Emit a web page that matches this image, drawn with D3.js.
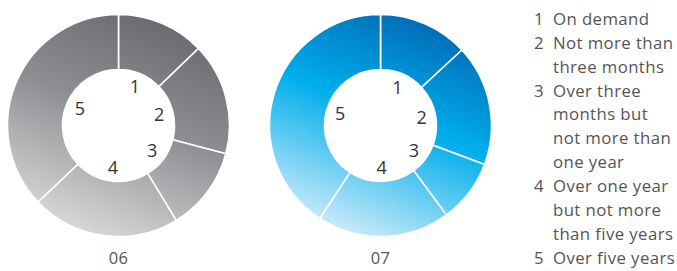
<!DOCTYPE html>
<html lang="en">
<head>
    <meta charset="UTF-8">
    <title>Maturity donuts</title>
    <script src="https://d3js.org/d3.v7.min.js"></script>
    <style>
        body {
            margin: 0;
            background: #ffffff;
            font-family: 'Open Sans', 'DejaVu Sans', sans-serif;
        }
        svg { display: block; }
        .seg { stroke: #ffffff; stroke-width: 1.6px; }
        .num { font-size: 18px; fill: #333; }
        .year { font-size: 16.5px; fill: #555; letter-spacing: 0.3px; }
        .legend { font-size: 16.8px; fill: #555; letter-spacing: 0.4px; }
    </style>
</head>
<body>
    <div id="chart"></div>
    <script>
        const width = 677, height = 271;

        // Maturity buckets (share of total, %)
        const buckets = ["1", "2", "3", "4", "5"];
        const values06 = [12.8, 16.3, 12.2, 21.6, 37.1];
        const values07 = [13.1, 17.6, 9.2, 19.3, 40.8];
        const years = ["06", "07"];

        const legendItems = [
            ["1", "On demand"],
            ["2", "Not more than", "three months"],
            ["3", "Over three", "months but", "not more than", "one year"],
            ["4", "Over one year", "but not more", "than five years"],
            ["5", "Over five years"]
        ];

        const svg = d3.select("#chart").append("svg")
            .attr("width", width).attr("height", height);

        const defs = svg.append("defs");

        const donuts = [
            { id: "g06", cx: 118.5, cy: 125.5, values: values06, year: years[0],
              stops: [[0, "#68686d"], [0.45, "#8e8e92"], [1, "#dcdcde"]] },
            { id: "g07", cx: 380.5, cy: 125.5, values: values07, year: years[1],
              stops: [[0, "#0068b4"], [0.45, "#00aeeb"], [1, "#d6eefa"]] }
        ];

        const outerR = 111, innerR = 56, labelR = 42;

        const pie = d3.pie().sort(null).value(d => d);
        const arc = d3.arc().innerRadius(innerR).outerRadius(outerR);

        donuts.forEach(dn => {
            // gradient in the donut's local coords, dark top-right to light bottom-left
            const grad = defs.append("linearGradient")
                .attr("id", dn.id)
                .attr("gradientUnits", "userSpaceOnUse")
                .attr("x1", 45).attr("y1", -outerR)
                .attr("x2", -45).attr("y2", outerR);
            grad.selectAll("stop").data(dn.stops).enter().append("stop")
                .attr("offset", d => d[0])
                .attr("stop-color", d => d[1]);

            const g = svg.append("g").attr("transform", `translate(${dn.cx},${dn.cy})`);
            const arcs = pie(dn.values);

            g.selectAll("path.seg")
                .data(arcs)
                .enter().append("path")
                .attr("class", "seg")
                .attr("d", arc)
                .attr("fill", `url(#${dn.id})`);

            g.selectAll("text.num")
                .data(arcs)
                .enter().append("text")
                .attr("class", "num")
                .attr("text-anchor", "middle")
                .attr("dy", "0.36em")
                .attr("x", (d) => labelR * Math.sin((d.startAngle + d.endAngle) / 2))
                .attr("y", (d) => -labelR * Math.cos((d.startAngle + d.endAngle) / 2))
                .text((d, i) => buckets[i]);

            svg.append("text")
                .attr("class", "year")
                .attr("text-anchor", "middle")
                .attr("x", dn.cx).attr("y", 258)
                .attr("dy", "0.36em")
                .text(dn.year);
        });

        // Legend
        const lineH = 23.9;
        const legend = svg.append("g").attr("class", "legend");
        let row = 0;
        legendItems.forEach(item => {
            legend.append("text")
                .attr("x", 539).attr("y", 19 + row * lineH)
                .attr("dy", "0.35em")
                .attr("text-anchor", "middle")
                .text(item[0]);
            item.slice(1).forEach(line => {
                legend.append("text")
                    .attr("x", 553).attr("y", 19 + row * lineH)
                    .attr("dy", "0.35em")
                    .text(line);
                row++;
            });
        });
    </script>
</body>
</html>
